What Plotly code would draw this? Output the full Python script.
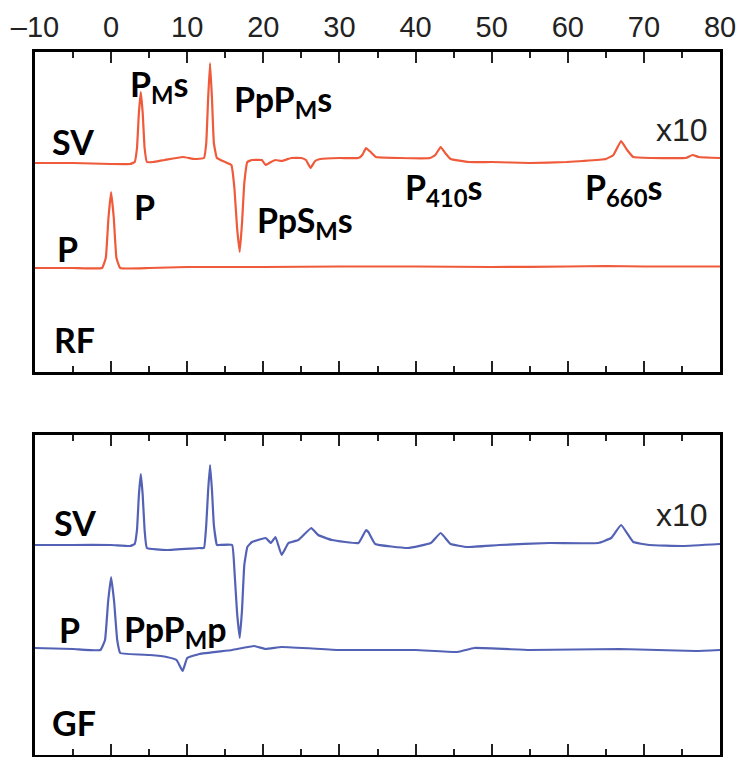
import plotly.graph_objects as go

# ---------------- data (time in s, amplitude in panel units) ----------------
rf_sv_t = [-10, -5, 0, 2.5, 3.1, 3.4, 3.65, 3.9, 4.15, 4.4, 4.7, 5.5, 7, 9.4, 11, 12.2,
           12.5, 12.75, 13.0, 13.25, 13.5, 13.9, 15.0, 15.8, 16.2, 16.55, 16.9, 17.2, 17.5, 17.9,
           18.5, 19.8, 20.3, 21.0, 21.6, 22.4, 23.7, 25.0, 25.6, 26.2, 26.8, 27.5, 30, 32.5,
           33.0, 33.5, 34.1, 34.8, 38, 41.9, 42.6, 43.3, 44.0, 44.6, 47, 50, 55, 59.8,
           62, 65, 66.0, 67.0, 67.8, 68.6, 71, 75.5, 76.4, 77.2, 80]
rf_sv_a = [0, 0, -0.1, -0.1, 0.1, 1.5, 5.0, 7.1, 5.0, 1.5, 0.1, 0.1, 0.3, 0.6, 0.4, 0.5,
           2.0, 6.5, 10.0, 6.5, 2.0, 0.5, 0.1, -0.2, -2.5, -6.5, -8.9, -6.0, -2.0, 0.1,
           0.3, 0.3, -0.2, 0.1, 0.3, 0.2, 0.5, 0.5, 0.3, -0.5, 0.2, 0.4, 0.5, 0.5,
           0.8, 1.5, 1.1, 0.6, 0.5, 0.5, 0.8, 1.6, 0.9, 0.4, 0.1, 0.1, 0.0, 0.1,
           0.2, 0.4, 0.8, 2.2, 1.3, 0.6, 0.5, 0.5, 0.8, 0.6, 0.5]

rf_p_t = [-10, -5, -1.2, -0.7, -0.35, 0, 0.35, 0.7, 1.2, 5, 10, 20, 30, 40, 50, 60, 65, 70, 80]
rf_p_a = [0, 0, 0, 1.0, 5.0, 7.6, 5.0, 1.0, 0, 0, 0.1, 0.1, 0.15, 0.15, 0.1, 0.15, 0.2, 0.15, 0.15]

gf_sv_t = [-10, -5, 0, 2.5, 3.1, 3.4, 3.65, 3.9, 4.15, 4.4, 4.7, 7.3, 11.6, 12.2,
           12.5, 12.75, 13.0, 13.25, 13.5, 13.9, 14.2, 15.9, 16.2, 16.55, 16.9, 17.2, 17.5, 17.9,
           18.5, 20.3, 21.0, 21.6, 22.4, 23.3, 24.6, 26.3, 27.2, 29, 32.5, 33.5, 33.8, 34.7,
           39, 42, 43.3, 44.6, 46.8, 51, 57.6, 64, 65.7, 67.0, 68.6, 70.7, 75.1, 80]
gf_sv_a = [0, 0, 0, -0.1, 0.1, 1.5, 5.0, 7.1, 5.0, 1.5, -0.3, -0.5, -0.3, -0.3,
           2.0, 5.5, 8.0, 5.5, 2.0, 0.0, 0.0, 0.0, -2.5, -6.8, -9.3, -6.5, -2.0, -0.2,
           0.3, 0.7, 0.2, 0.8, -1.0, 0.2, 0.5, 1.7, 1.0, 0.5, 0.2, 1.5, 1.3, 0.1,
           -0.3, 0.2, 1.2, 0.1, -0.2, 0.0, 0.2, 0.2, 0.7, 2.0, 0.3, 0.0, -0.1, 0.1]

gf_p_t = [-10, -5, -1.4, -0.8, -0.4, 0, 0.4, 0.8, 1.2, 5.1, 7.3, 8.6, 9.4, 10, 11.6, 15.9,
          18.8, 20.3, 22.4, 30, 40, 45.5, 47.7, 55, 66.8, 76.8, 80]
gf_p_a = [0.2, 0.1, 0, 1.0, 4.8, 7.3, 4.8, 1.0, -0.3, -0.5, -0.7, -1.0, -2.1, -0.8, -0.4, 0,
          0.4, 0.1, 0.3, 0, 0, -0.2, 0.2, 0, 0.1, -0.1, 0]

x_major_ticks = [-10, 0, 10, 20, 30, 40, 50, 60, 70, 80]
x_tick_labels = ["\u201310", "0", "10", "20", "30", "40", "50", "60", "70", "80"]

# trace baselines (panel units)
RF_SV_BASE, RF_P_BASE = 20.9, 10.4
GF_SV_BASE, GF_P_BASE = 21.0, 10.5

RED = "#ef5a3a"
BLUE = "#5462b5"

fig = go.Figure()

def add(t, a, base, color, xa, ya):
    fig.add_trace(go.Scatter(x=t, y=[v + base for v in a], mode="lines",
                             line=dict(color=color, width=2.2, shape="spline", smoothing=0.3),
                             xaxis=xa, yaxis=ya, showlegend=False, hoverinfo="skip"))

add(rf_sv_t, rf_sv_a, RF_SV_BASE, RED, "x", "y")
add(rf_p_t, rf_p_a, RF_P_BASE, RED, "x", "y")
add(gf_sv_t, gf_sv_a, GF_SV_BASE, BLUE, "x2", "y2")
add(gf_p_t, gf_p_a, GF_P_BASE, BLUE, "x2", "y2")

xcommon = dict(range=[-10, 80], showgrid=False, zeroline=False, showline=True,
               linewidth=3, linecolor="black", mirror="ticks", ticks="inside",
               ticklen=11, tickwidth=2, tickcolor="#222",
               tickvals=x_major_ticks, ticktext=x_tick_labels,
               minor=dict(tickvals=[-5, 5, 15, 25, 35, 45, 55, 65, 75], ticks="inside",
                          ticklen=6, tickwidth=2, tickcolor="#222"),
               fixedrange=True)
ycommon = dict(range=[0, 32], showgrid=False, zeroline=False, showline=True,
               linewidth=3, linecolor="black", mirror=True, ticks="",
               showticklabels=False, fixedrange=True)

fig.update_layout(
    width=739, height=757,
    margin=dict(l=35, r=19, t=52, b=2),
    paper_bgcolor="white", plot_bgcolor="white",
    xaxis=dict(xcommon, anchor="y", side="top", showticklabels=True,
               tickfont=dict(family="Liberation Sans, Arial", size=29, color="#222")),
    yaxis=dict(ycommon, domain=[0.5448, 1], anchor="x"),
    xaxis2=dict(xcommon, anchor="y2", showticklabels=False),
    yaxis2=dict(ycommon, domain=[0, 0.4552], anchor="x2"),
)

bold = dict(family="Lato, Open Sans, sans-serif", size=34, color="black")
plain = dict(family="Liberation Sans, Arial", size=32, color="#222")

labels_top = [
    ("<b>SV</b>", -8.0, 23.1, bold),
    ("<b>P</b>", -7.4, 12.4, bold),
    ("<b>RF</b>", -7.8, 3.3, bold),
    ("<b>P<sub>M</sub>s</b>", 2.2, 28.6, bold),
    ("<b>PpP<sub>M</sub>s</b>", 15.9, 27.1, bold),
    ("<b>P</b>", 2.75, 16.55, bold),
    ("<b>PpS<sub>M</sub>s</b>", 18.9, 15.0, bold),
    ("<b>P<sub>410</sub>s</b>", 38.4, 18.3, bold),
    ("<b>P<sub>660</sub>s</b>", 62.0, 18.3, bold),
    ("x10", 71.3, 24.2, plain),
]
labels_bot = [
    ("<b>SV</b>", -7.8, 23.2, bold),
    ("<b>P</b>", -7.1, 12.5, bold),
    ("<b>PpP<sub>M</sub>p</b>", 1.45, 12.4, bold),
    ("<b>GF</b>", -8.0, 3.3, bold),
    ("x10", 71.3, 24.0, plain),
]
for txt, x, y, f in labels_top:
    fig.add_annotation(text=txt, x=x, y=y, xref="x", yref="y", showarrow=False,
                       xanchor="left", yanchor="middle", font=f)
for txt, x, y, f in labels_bot:
    fig.add_annotation(text=txt, x=x, y=y, xref="x2", yref="y2", showarrow=False,
                       xanchor="left", yanchor="middle", font=f)

fig.write_html("out.html")
